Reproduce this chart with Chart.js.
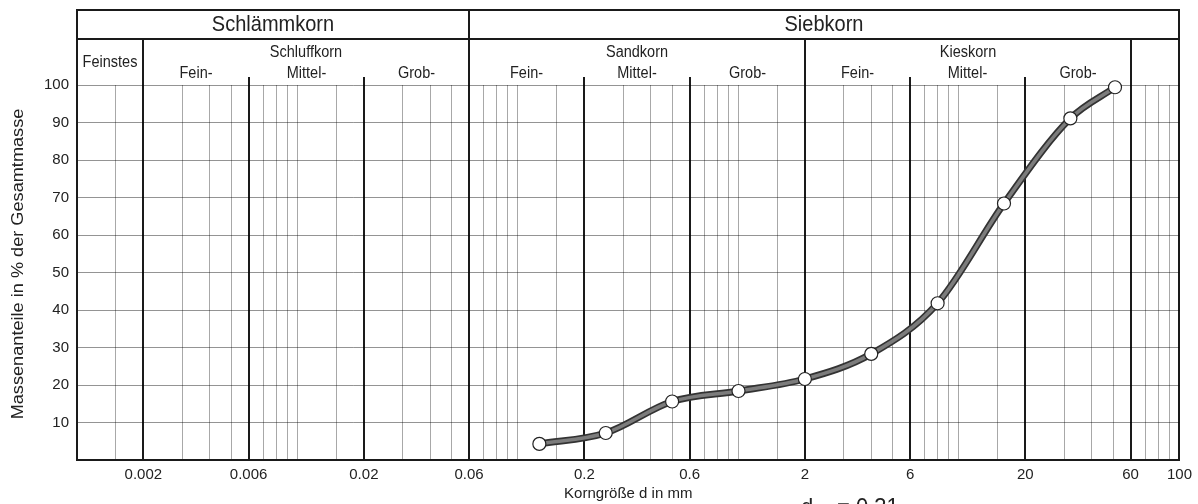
<!DOCTYPE html>
<html>
<head>
<meta charset="utf-8">
<script src="https://cdn.jsdelivr.net/npm/chart.js@4/dist/chart.umd.min.js"></script>
<style>
  html, body { margin: 0; padding: 0; background: #fff; }
  #wrap { width: 1198px; height: 504px; }
</style>
</head>
<body>
<div id="wrap"><canvas id="sieveChart" width="1198" height="504"></canvas></div>
<script>
// ===== DATA =====
const sieveSizes = [0.125, 0.25, 0.5, 1, 2, 4, 8, 16, 32, 51];
const passing = [4.3, 7.2, 15.6, 18.4, 21.6, 28.3, 41.8, 68.4, 91.1, 99.4];

// vertical grid of the log paper
const gridValues = [
  0.001, 0.0015, 0.002, 0.003, 0.004, 0.005, 0.006, 0.007, 0.008, 0.009,
  0.01, 0.015, 0.02, 0.03, 0.04, 0.05, 0.06, 0.07, 0.08, 0.09,
  0.1, 0.15, 0.2, 0.3, 0.4, 0.5, 0.6, 0.7, 0.8, 0.9,
  1, 1.5, 2, 3, 4, 5, 6, 7, 8, 9,
  10, 15, 20, 30, 40, 50, 60, 70, 80, 90,
  100,
];
const tickLabels = [0.002, 0.006, 0.02, 0.06, 0.2, 0.6, 2, 6, 20, 60, 100];
const thickLines = [0.001, 0.002, 0.006, 0.02, 0.06, 0.2, 0.6, 2, 6, 20, 60, 100];

// header texts
const groupNames = ["Schlämmkorn", "Siebkorn"];
const groupBounds = [0.001, 0.06, 100];
const fractionNames = ["Feinstes", "Schluffkorn", "Sandkorn", "Kieskorn", ""];
const fractionBounds = [0.001, 0.002, 0.06, 2, 60, 100];
const subNames = ["Fein-", "Mittel-", "Grob-"];
const subBounds = [
  [0.002, 0.006, 0.02, 0.06],
  [0.06, 0.2, 0.6, 2],
  [2, 6, 20, 60],
];

const FONT = "'Liberation Sans', Arial, Helvetica, sans-serif";
const INK = "#1a1a1a";

Chart.defaults.font.family = FONT;
Chart.defaults.color = "#222";

// ===== HEADER / FRAME =====
function stretchedText(ctx, text, x, y, size, align) {
  ctx.save();
  ctx.font = `${size}px ${FONT}`;
  ctx.textAlign = align || "center";
  ctx.textBaseline = "middle";
  ctx.translate(x, y);
  ctx.scale(1, 1.12);
  ctx.fillText(text, 0, 0);
  ctx.restore();
}

function vline(ctx, x, y1, y2) {
  ctx.beginPath();
  ctx.moveTo(x, y1);
  ctx.lineTo(x, y2);
  ctx.stroke();
}

const headerPlugin = {
  id: "header",
  afterDraw(chart) {
    const { ctx, chartArea } = chart;
    const xs = chart.scales.x;
    const px = (v) => Math.round(xs.getPixelForValue(v));
    const TOP = 10;
    const DIV = 39;
    const SUB = 77;
    const left = px(0.001);
    const right = px(100);

    ctx.save();
    ctx.strokeStyle = INK;
    ctx.lineWidth = 2;

    // outer frame of the header
    ctx.beginPath();
    ctx.moveTo(left - 1, TOP);
    ctx.lineTo(right + 1, TOP);
    ctx.moveTo(left, DIV);
    ctx.lineTo(right, DIV);
    ctx.stroke();
    vline(ctx, left, TOP, chartArea.top);
    vline(ctx, right, TOP, chartArea.top);
    vline(ctx, px(0.06), TOP, chartArea.top);

    // fraction borders up to the divider
    [0.002, 2, 60].forEach((v) => vline(ctx, px(v), DIV, chartArea.top));

    // sub fraction borders, short
    [0.006, 0.02, 0.2, 0.6, 6, 20].forEach((v) => vline(ctx, px(v), SUB, chartArea.top));

    ctx.fillStyle = "#222";
    groupNames.forEach((name, i) => {
      const cx = (px(groupBounds[i]) + px(groupBounds[i + 1])) / 2;
      stretchedText(ctx, name, cx, 25, 20);
    });

    fractionNames.forEach((name, i) => {
      if (!name) return;
      const cx = (px(fractionBounds[i]) + px(fractionBounds[i + 1])) / 2;
      stretchedText(ctx, name, cx, i === 0 ? 62.5 : 52.5, 14.5);
    });

    subBounds.forEach((bounds) => {
      subNames.forEach((name, j) => {
        const cx = (px(bounds[j]) + px(bounds[j + 1])) / 2;
        stretchedText(ctx, name, cx, 74, 14.5);
      });
    });

    // y axis title
    ctx.save();
    ctx.translate(18, 264);
    ctx.rotate(-Math.PI / 2);
    ctx.scale(1.1, 1);
    ctx.font = `16.5px ${FONT}`;
    ctx.textAlign = "center";
    ctx.textBaseline = "middle";
    ctx.fillText("Massenanteile in % der Gesamtmasse", 0, 0);
    ctx.restore();

    // characteristic grain size, cut by the lower edge
    stretchedText(ctx, "d", 801, 508, 22, "left");
    stretchedText(ctx, "10", 812, 520, 13, "left");
    stretchedText(ctx, "= 0.31", 837, 508, 22, "left");
    stretchedText(ctx, "mm", 911, 511, 16, "left");

    ctx.restore();
  },
};

// ===== CHART =====
const points = sieveSizes.map((d, i) => ({ x: d, y: passing[i] }));

new Chart(document.getElementById("sieveChart"), {
  type: "line",
  data: {
    datasets: [
      {
        label: "Sieblinie",
        data: points,
        borderColor: "#7c7c7c",
        borderWidth: 3.5,
        cubicInterpolationMode: "monotone",
        pointRadius: 6.5,
        pointBackgroundColor: "#fff",
        pointBorderColor: "#222",
        pointBorderWidth: 1.2,
        clip: false,
      },
      {
        label: "Sieblinie Rand",
        data: points,
        borderColor: "#333",
        borderWidth: 7,
        cubicInterpolationMode: "monotone",
        pointRadius: 0,
        clip: false,
      },
    ],
  },
  options: {
    responsive: false,
    animation: false,
    layout: { padding: { top: 85, right: 18, bottom: 0, left: 0 } },
    plugins: {
      legend: { display: false },
      tooltip: { enabled: false },
    },
    scales: {
      x: {
        type: "logarithmic",
        min: 0.001,
        max: 100,
        afterBuildTicks: (scale) => {
          scale.ticks = gridValues.map((v) => ({ value: v }));
        },
        afterFit: (scale) => {
          scale.height = 44;
        },
        ticks: {
          autoSkip: false,
          maxRotation: 0,
          padding: 6,
          font: { size: 15 },
          color: "#222",
          callback: (value) => (tickLabels.includes(value) ? String(value) : ""),
        },
        grid: {
          drawTicks: false,
          lineWidth: (c) => (c.tick && thickLines.includes(c.tick.value) ? 2 : 1),
          color: (c) =>
            c.tick && thickLines.includes(c.tick.value) ? INK : "rgba(0,0,0,0.34)",
        },
        border: { display: true, width: 2, color: INK },
        title: {
          display: true,
          text: "Korngröße d in mm",
          font: { size: 15 },
          color: "#222",
          padding: { top: 0, bottom: 1 },
        },
      },
      y: {
        min: 0,
        max: 100,
        afterFit: (scale) => {
          scale.width = 77;
        },
        ticks: {
          stepSize: 10,
          padding: 8,
          font: { size: 15 },
          color: "#222",
          callback: (value) => (value === 0 ? "" : value),
        },
        grid: {
          drawTicks: false,
          lineWidth: 1,
          color: "rgba(0,0,0,0.42)",
        },
        border: { display: true, width: 2, color: INK },
      },
    },
  },
  plugins: [headerPlugin],
});
</script>
</body>
</html>
